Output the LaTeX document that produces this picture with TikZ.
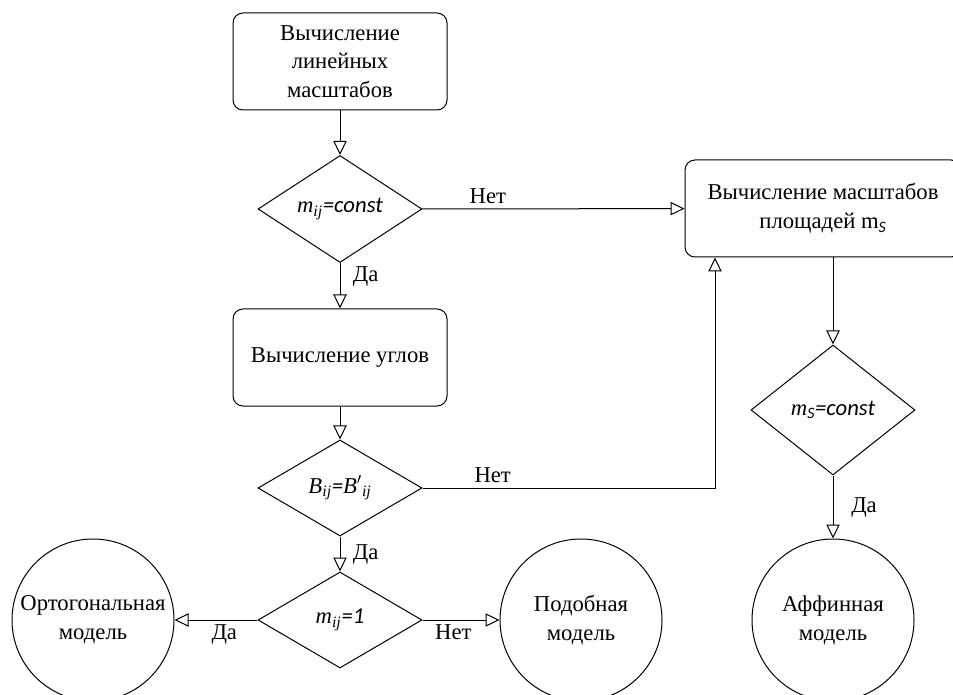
\documentclass[tikz,border=0pt]{standalone}
\usepackage{fontspec}
\setmainfont{Liberation Serif}
\setsansfont{Carlito}
\usetikzlibrary{arrows.meta,shapes.geometric}
\newcommand{\frm}[1]{{\sffamily\itshape #1}}
\begin{document}
\begin{tikzpicture}[x=0.75pt, y=-0.75pt,
  every node/.style={font=\fontsize{17}{21.5}\selectfont},
  box/.style={draw, rounded corners=7.5pt, minimum width=160.5pt, minimum height=72.75pt, align=center},
  cond/.style={draw, diamond, inner sep=0pt, minimum width=123pt, minimum height=72pt},
  circ/.style={draw, circle, inner sep=0pt, minimum size=121.5pt, align=center},
  arr/.style={-{Triangle[open, length=10.5pt, width=10pt]}},
  line width=0.75pt]
\useasboundingbox (0,0) rectangle (953,695);
\node[box] (lin) at (340,61.5) {Вычисление\\линейных\\масштабов};
\node[cond] (c1) at (340,209) {\textit{m}\textsubscript{\textit{ij}}\frm{=const}};
\node[box] (ang) at (340,357.5) {Вычисление углов};
\node[cond] (c2) at (340,488) {\textit{B}\textsubscript{\textit{ij}}\frm{=}\textit{B$'$}\textsubscript{\textit{ij}}};
\node[cond] (c3) at (340,620) {\textit{m}\textsubscript{\textit{ij}}\frm{=1}};
\node[circ] (orth) at (93,620) {Ортогональная\\модель};
\node[circ] (sim) at (581,620) {Подобная\\модель};
\node[box, minimum width=207pt] (area) at (823,208.5) {Вычисление масштабов\\площадей m\textsubscript{\frm{S}}};
\node[cond, minimum height=97.5pt] (c4) at (833,410) {\textit{m}\textsubscript{\frm{S}}\frm{=const}};
\node[circ] (aff) at (833,620) {Аффинная\\модель};

\draw[arr] (lin) -- (c1);
\draw[arr] (c1) -- node[right=6pt, pos=0.3] {Да} (ang);
\draw[arr] (c1) -- node[above, pos=0.25] {Нет} (area);
\draw[arr] (ang) -- (c2);
\draw[arr] (c2) -| node[above, pos=0.12] {Нет} ([xshift=-81pt]area.south);
\draw[arr] (c2) -- node[right=6pt] {Да} (c3);
\draw[arr] (c3) -- node[below, pos=0.4] {Да} (orth);
\draw[arr] (c3) -- node[below, pos=0.4] {Нет} (sim);
\draw[arr] ([xshift=7.5pt]area.south) -- (c4);
\draw[arr] (c4) -- node[right=10pt, pos=0.5] {Да} (aff);
\end{tikzpicture}
\end{document}
